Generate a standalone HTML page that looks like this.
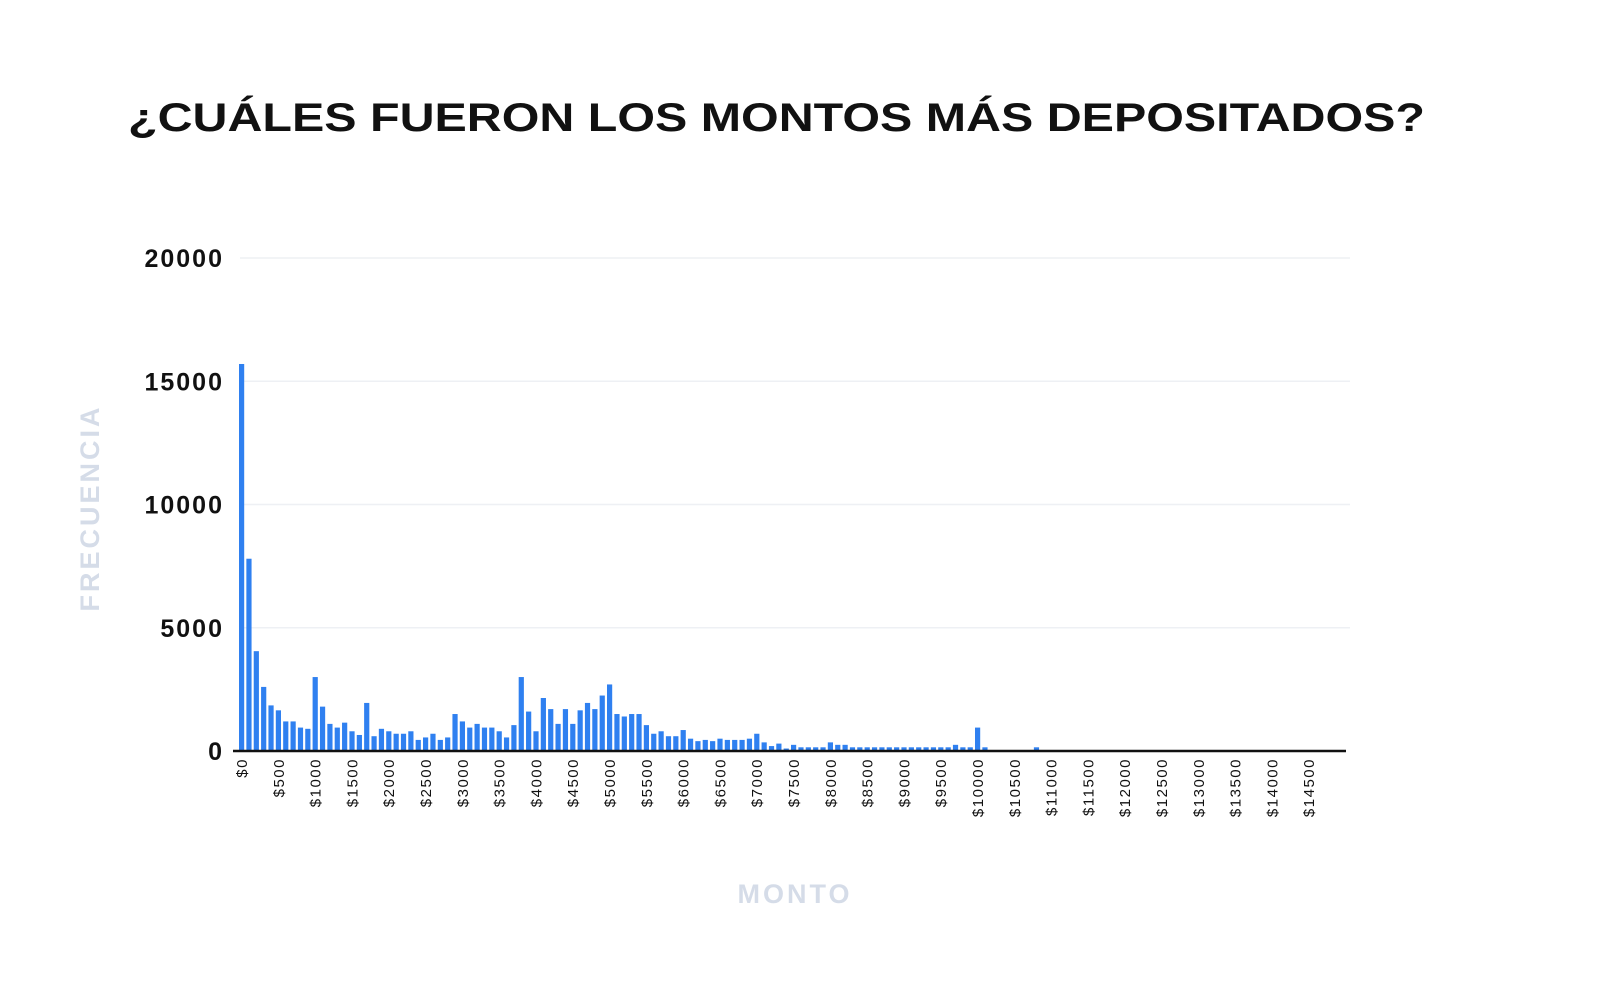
<!DOCTYPE html>
<html><head><meta charset="utf-8"><style>
html,body{margin:0;padding:0;background:#fff;}
svg{display:block;font-family:"Liberation Sans",sans-serif;}
</style></head><body>
<svg id="chart" width="1600" height="1002" viewBox="0 0 1600 1002">
<text x="128" y="131" font-size="40" font-weight="bold" fill="#111" textLength="1297" lengthAdjust="spacingAndGlyphs">¿CUÁLES FUERON LOS MONTOS MÁS DEPOSITADOS?</text>
<text transform="translate(99,508) rotate(-90)" text-anchor="middle" font-size="27" font-weight="bold" fill="#d5dce8" letter-spacing="3">FRECUENCIA</text>
<text x="795" y="903" text-anchor="middle" font-size="27" font-weight="bold" fill="#d5dce8" letter-spacing="3">MONTO</text>
<g id="grid"></g><g id="bars"></g><g id="yticks"></g><g id="xticks"></g>
<line x1="233" y1="751" x2="1346" y2="751" stroke="#111" stroke-width="2.5"/>
</svg>
<script>
const binSize = 100;
const counts = [15700,7800,4050,2600,1850,1650,1200,1200,950,900,
3000,1800,1100,950,1150,800,650,1950,600,900,
800,700,700,800,450,550,700,450,550,1500,
1200,950,1100,950,950,800,550,1050,3000,1600,
800,2150,1700,1100,1700,1100,1650,1950,1700,2250,
2700,1500,1400,1500,1500,1050,700,800,600,600,
850,500,400,450,400,500,450,450,450,500,
700,350,200,300,100,250,150,150,150,150,
350,250,250,150,150,150,150,150,150,150,
150,150,150,150,150,150,150,250,150,150,
950,150,0,0,0,0,0,0,150];
const yTicks = [0,5000,10000,15000,20000];
const xTickValues = [0,500,1000,1500,2000,2500,3000,3500,4000,4500,5000,5500,6000,6500,7000,7500,8000,8500,9000,9500,10000,10500,11000,11500,12000,12500,13000,13500,14000,14500];
const NS="http://www.w3.org/2000/svg";
const x0=241, pxPer100=7.36, yBase=751, yTop=258, yMax=20000;
function xs(v){return x0+v/100*pxPer100;}
function ys(v){return yBase-(v/yMax)*(yBase-yTop);}
const grid=document.getElementById('grid'),bars=document.getElementById('bars'),yt=document.getElementById('yticks'),xt=document.getElementById('xticks');
yTicks.forEach(t=>{
  if(t>0){const l=document.createElementNS(NS,'line');
  
  
  l.setAttribute('x1',240);l.setAttribute('x2',1350);l.setAttribute('y1',ys(t));l.setAttribute('y2',ys(t));
  l.setAttribute('stroke','#eef0f4');l.setAttribute('stroke-width','1.5');grid.appendChild(l);}
  const tx=document.createElementNS(NS,'text');
  
  
  tx.setAttribute('x',224);tx.setAttribute('y',ys(t)+9);tx.setAttribute('text-anchor','end');
  tx.setAttribute('font-size','25');tx.setAttribute('font-weight','bold');tx.setAttribute('fill','#111');tx.setAttribute('letter-spacing','2');
  tx.textContent=t;yt.appendChild(tx);
});
counts.forEach((c,i)=>{
  if(c<=0)return;
  const r=document.createElementNS(NS,'rect');
  
  
  const x=xs(i*binSize);
  r.setAttribute('x',x-2);r.setAttribute('width',5.2);
  r.setAttribute('y',ys(c));r.setAttribute('height',yBase-ys(c));
  r.setAttribute('fill','#2f80f0');bars.appendChild(r);
});
xTickValues.forEach(v=>{
  const tx=document.createElementNS(NS,'text');
  
  
  const x=xs(v)+1+(v===0?0:0);
  tx.setAttribute('transform','translate('+(x+5)+',758) rotate(-90)');
  tx.setAttribute('text-anchor','end');tx.setAttribute('font-size','15');tx.setAttribute('fill','#111');tx.setAttribute('letter-spacing','1.5');
  tx.textContent='$'+v;xt.appendChild(tx);
});
</script>
</body></html>
